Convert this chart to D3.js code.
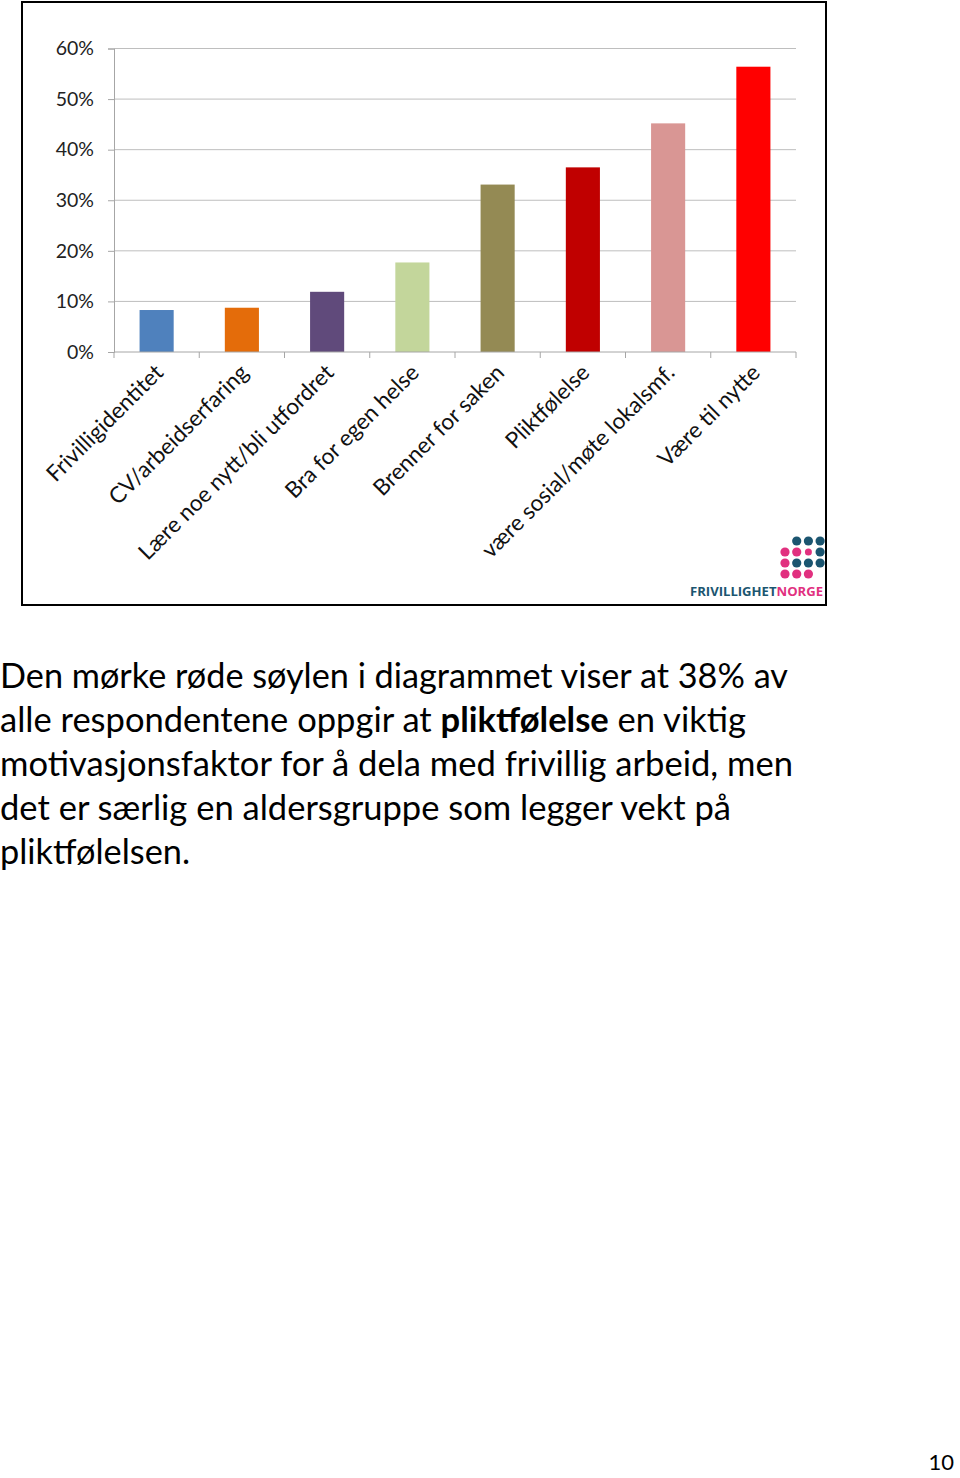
<!DOCTYPE html>
<html><head><meta charset="utf-8">
<script src="https://cdn.jsdelivr.net/npm/d3@7/dist/d3.min.js"></script>
<style>body{margin:0;background:#fff}svg{display:block}</style>
</head><body>
<svg id="c" width="960" height="1478"></svg>
<script>
const categories = ["Frivilligidentitet","CV/arbeidserfaring","Lære noe nytt/bli utfordret","Bra for egen helse","Brenner for saken","Pliktfølelse","være sosial/møte lokalsmf.","Være til nytte"];
const values = [0.083, 0.0875, 0.119, 0.177, 0.331, 0.365, 0.452, 0.564];
const colors = ["#4F81BD","#E46C0A","#604A7B","#C3D69B","#948A54","#C00000","#D99694","#FF0000"];
const yTicks = [0,0.1,0.2,0.3,0.4,0.5,0.6];
const paragraph = [
  [["Den mørke røde søylen i diagrammet viser at 38% av",false]],
  [["alle respondentene oppgir at ",false],["pliktfølelse",true],[" en viktig",false]],
  [["motivasjonsfaktor for å dela med frivillig arbeid, men",false]],
  [["det er særlig en aldersgruppe som legger vekt på",false]],
  [["pliktfølelsen.",false]]
];
const paragraphWidths = [788, 746, 793, 731, 190];
const pageNumber = "10";

const svg = d3.select("#c");
const font = "Lato, 'Open Sans', sans-serif";

// frame
svg.append("rect").attr("x",22).attr("y",2).attr("width",804).attr("height",603)
  .attr("fill","#fff").attr("stroke","#000").attr("stroke-width",2);

const x = d3.scaleBand().domain(categories).range([114,796]).paddingInner(0.6).paddingOuter(0.3);
const y = d3.scaleLinear().domain([0,0.6]).range([352,48.5]);

// gridlines
svg.append("g").selectAll("line").data(yTicks.slice(1)).join("line")
  .attr("x1",114).attr("x2",796).attr("y1",d=>y(d)).attr("y2",d=>y(d))
  .attr("stroke","#BEBEBE").attr("stroke-width",1);

// y axis
const yAxis = svg.append("g").attr("transform","translate(114,0)")
  .call(d3.axisLeft(y).tickValues(yTicks).tickFormat(d3.format(".0%")).tickSize(6).tickPadding(14));
yAxis.select(".domain").attr("stroke","#A6A6A6");
yAxis.selectAll(".tick line").attr("stroke","#A6A6A6");
yAxis.selectAll("text").attr("font-family",font).attr("font-size",19.5).attr("fill","#222");

// bars
svg.append("g").selectAll("rect").data(values).join("rect")
  .attr("x",(d,i)=>x(categories[i]))
  .attr("width",x.bandwidth())
  .attr("y",d=>y(d)).attr("height",d=>y(0)-y(d))
  .attr("fill",(d,i)=>colors[i]);

// x axis
svg.append("line").attr("x1",114).attr("x2",796).attr("y1",352).attr("y2",352).attr("stroke","#A6A6A6");
svg.append("g").selectAll("line").data(d3.range(categories.length+1)).join("line")
  .attr("x1",i=>114+i*(682/categories.length)).attr("x2",i=>114+i*(682/categories.length))
  .attr("y1",352).attr("y2",358).attr("stroke","#A6A6A6");

svg.append("g").selectAll("text").data(categories).join("text")
  .attr("transform",d=>`translate(${x(d)+x.bandwidth()/2+8},${374}) rotate(-45)`)
  .attr("text-anchor","end")
  .attr("font-family",font).attr("font-size",22.5).attr("fill","#111")
  .text(d=>d);

// logo
const logoDots = [
  [1,0,"t"],[2,0,"t"],[3,0,"t"],
  [0,1,"p"],[1,1,"p"],[2,1,"ps"],[3,1,"t"],
  [0,2,"p"],[1,2,"t"],[2,2,"t"],[3,2,"t"],
  [0,3,"p"],[1,3,"p"],[2,3,"p"]
];
svg.append("g").selectAll("circle").data(logoDots).join("circle")
  .attr("cx",d=>785+d[0]*11.7).attr("cy",d=>541+d[1]*11)
  .attr("r",d=>d[2]==="ps"?3.5:4.6)
  .attr("fill",d=>d[2]==="t"?"#1B5570":"#E1307F");
const lt = svg.append("text").attr("x",690).attr("y",596)
  .attr("font-family","'Open Sans', sans-serif").attr("font-weight","bold").attr("font-size",12.5)
  .attr("textLength",133).attr("lengthAdjust","spacingAndGlyphs");
lt.append("tspan").attr("fill","#1B5570").text("FRIVILLIGHET");
lt.append("tspan").attr("fill","#E1307F").text("NORGE");

// paragraph
const pg = svg.append("g");
paragraph.forEach((line,i)=>{
  const t = pg.append("text").attr("x",0).attr("y",688+i*44)
    .attr("font-family",font).attr("font-size",34).attr("fill","#000")
    .attr("textLength",paragraphWidths[i]).attr("lengthAdjust","spacingAndGlyphs");
  line.forEach(seg=>{
    t.append("tspan").attr("font-weight",seg[1]?"bold":"normal").text(seg[0]);
  });
});

svg.append("text").attr("x",954).attr("y",1470).attr("text-anchor","end")
  .attr("font-family",font).attr("font-size",22).attr("fill","#000").text(pageNumber);
</script>
</body></html>
